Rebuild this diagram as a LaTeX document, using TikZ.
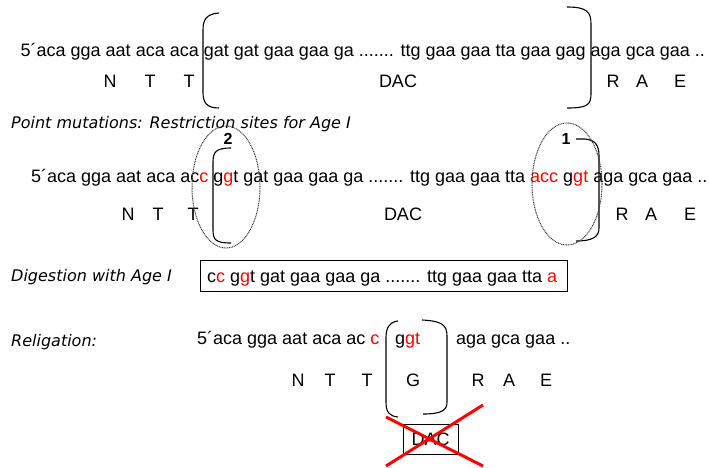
\documentclass[tikz,border=0pt]{standalone}
\usepackage{fontspec}
\setmainfont{Liberation Sans}
\newfontfamily\labfont{DejaVu Sans}
\begin{document}
\begin{tikzpicture}[x=1pt,y=-1pt,
  seq/.style={anchor=base west, inner sep=0pt, font=\fontsize{18}{21}\selectfont},
  aa/.style={anchor=base, inner sep=0pt, font=\fontsize{18}{21}\selectfont},
  lab/.style={anchor=base west, inner sep=0pt, font=\labfont\itshape\fontsize{16}{19}\selectfont},
  num/.style={anchor=base, inner sep=0pt, font=\bfseries\fontsize{16}{19}\selectfont},
  brk/.style={line width=1.1pt},
  site/.style={draw=black!75, dash pattern=on 1pt off 0.7pt, line width=1pt},
  frame/.style={draw, line width=0.9pt},
  cross/.style={draw=red, line width=3pt}]
\useasboundingbox (0,0) rectangle (709,467);

% ---------- row 1 ----------
\node[seq] (r1) at (20.5,56) {5´aca gga aat aca aca gat gat gaa gaa ga ....... ttg gaa gaa tta gaa gag aga gca gaa ..};
\node[aa] (r1N) at (110,87) {N};
\node[aa] (r1T1) at (150,87) {T};
\node[aa] (r1T2) at (189,87) {T};
\node[aa] (r1D) at (398,87) {DAC};
\node[aa] (r1R) at (613,87) {R};
\node[aa] (r1A) at (642,87) {A};
\node[aa] (r1E) at (680,87) {E};
\draw[brk] (219,13) .. controls (206,14) and (203,20) .. (203,30) -- (203,92) .. controls (203,102) and (206,108) .. (219,108);
\draw[brk] (567,7) .. controls (587,7) and (591,12) .. (591,24) -- (591,94) .. controls (591,105) and (587,108) .. (567,108);

\node[lab] (l1) at (11,128) {Point mutations: Restriction sites for Age I};

% ---------- row 2 ----------
\node[seq] (r2) at (31,182) {5´aca gga aat aca ac\textcolor{red}{c} g\textcolor{red}{g}t gat gaa gaa ga ....... ttg gaa gaa tta \textcolor{red}{acc} g\textcolor{red}{gt} aga gca gaa ..};
\node[aa] (r2N) at (128,220) {N};
\node[aa] (r2T1) at (158,220) {T};
\node[aa] (r2T2) at (193,220) {T};
\node[aa] (r2D) at (403,220) {DAC};
\node[aa] (r2R) at (622,220) {R};
\node[aa] (r2A) at (651,220) {A};
\node[aa] (r2E) at (690,220) {E};

\node[num] (n2) at (228,144) {2};
\draw[brk] (231,148) .. controls (216,148) and (213,152) .. (213,162) -- (213,230) .. controls (213,240) and (216,243) .. (231,243);
\draw[site] (226,187) ellipse [x radius=34pt, y radius=61pt];

\node[num] (n1) at (566,144) {1};
\draw[brk] (576,139) -- (585,139) .. controls (596,140) and (599,146) .. (599,156) -- (599,228) .. controls (599,236) and (594,241) .. (576,241);
\draw[site] (567,184) ellipse [x radius=35pt, y radius=61pt];

% ---------- row 3 ----------
\node[lab] (l2) at (11,281) {Digestion with Age I};
\draw[frame] (200,260) rectangle (567,291);
\node[seq] (r3) at (207,282) {c\textcolor{red}{c} g\textcolor{red}{g}t gat gaa gaa ga ....... ttg gaa gaa tta \textcolor{red}{a}};

% ---------- row 4 ----------
\node[lab] (l3) at (11,346) {Religation:};
\node[seq] (r4a) at (197,344) {5´aca gga aat aca ac \textcolor{red}{c}};
\node[seq] (r4b) at (395,344) {g\textcolor{red}{gt}};
\node[seq] (r4c) at (456,344) {aga gca gaa ..};
\draw[brk] (398,321) .. controls (389,322) and (386,328) .. (386,338) -- (386,402) .. controls (386,412) and (389,416) .. (398,417);
\draw[brk] (422,320) .. controls (442,321) and (447,325) .. (447,336) -- (447,402) .. controls (447,410) and (442,414) .. (423,414);
\node[aa] (r4N) at (298,386) {N};
\node[aa] (r4T1) at (330,386) {T};
\node[aa] (r4T2) at (367,386) {T};
\node[aa] (r4G) at (413,386) {G};
\node[aa] (r4R) at (478,386) {R};
\node[aa] (r4A) at (509,386) {A};
\node[aa] (r4E) at (546,386) {E};

\node[frame, inner sep=0pt, minimum width=55pt, minimum height=30pt, font=\fontsize{18}{21}\selectfont] (dac) at (430.5,439) {DAC};
\coordinate (xa) at (386,417);
\coordinate (xb) at (483,466);
\coordinate (xc) at (386,466);
\coordinate (xd) at (483,405);
\draw[cross] (xa) -- (xb);
\draw[cross] (xc) -- (xd);
\end{tikzpicture}
\end{document}
